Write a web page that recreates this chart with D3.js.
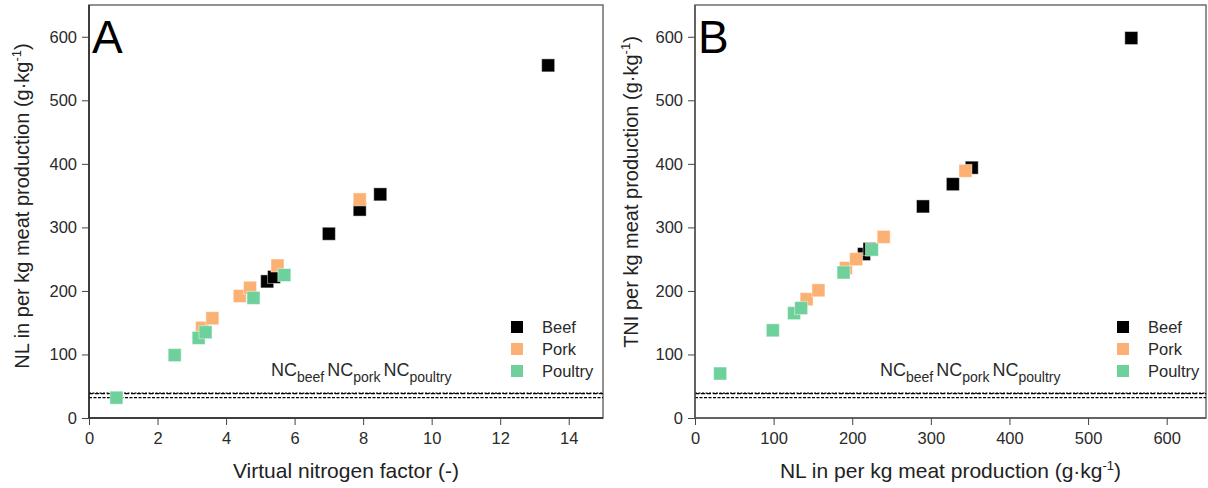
<!DOCTYPE html>
<html>
<head>
<meta charset="utf-8">
<script src="https://cdn.jsdelivr.net/npm/d3@7"></script>
<style>
  body { margin: 0; background: #fff; }
  text { font-family: "Liberation Sans", Arial, sans-serif; }
</style>
</head>
<body>
<div id="chart"></div>
<script>
const width = 1208;
const height = 488;

// series: names and colours
const groups = ['Beef', 'Pork', 'Poultry'];
const colors = {Beef: '#000000', Pork: '#FBB173', Poultry: '#6ED19C'};

// panel A: virtual nitrogen factor vs NL
const beefVNF = [5.2, 5.4, 7.0, 7.9, 8.5, 13.4];
const beefNL = [215, 222, 290, 328, 352, 555];
const porkVNF = [3.3, 3.6, 4.4, 4.7, 5.5, 7.9];
const porkNL = [142, 157, 192, 205, 240, 344];
const poultryVNF = [0.8, 2.5, 3.2, 3.4, 4.8, 5.7];
const poultryNL = [32, 99, 126, 135, 189, 225];

// panel B: NL vs TNI
const beefTNI = [258, 266, 333, 368, 394, 598];
const porkTNI = [187, 201, 236, 250, 285, 389];
const poultryTNI = [70, 138, 165, 173, 229, 265];

// NC reference lines
const ncNames = ['beef', 'pork', 'poultry'];
const ncValues = [39.2, 38.4, 32];
const ncDash = ['2,1.5', '4,2', '3,1.5'];

const xTicksA = [0, 2, 4, 6, 8, 10, 12, 14];
const xTicksB = [0, 100, 200, 300, 400, 500, 600];
const yTicks = [0, 100, 200, 300, 400, 500, 600];

const svg = d3.select('#chart')
  .append('svg')
  .attr('width', width)
  .attr('height', height);

function panel(opts) {
  const x = d3.scaleLinear().domain(opts.xDomain).range([opts.left, opts.right]);
  const y = d3.scaleLinear().domain([0, 650]).range([418, 5]);
  const g = svg.append('g');

  // frame
  g.append('rect')
    .attr('x', opts.left).attr('y', 5)
    .attr('width', opts.right - opts.left).attr('height', 413)
    .attr('fill', 'none').attr('stroke', '#6e6e6e').attr('stroke-width', 1.5);

  // NC lines
  ncValues.forEach(function(v, i) {
    g.append('line')
      .attr('x1', x.range()[0]).attr('x2', x.range()[1])
      .attr('y1', y(v)).attr('y2', y(v))
      .attr('stroke', '#000').attr('stroke-width', 1.2)
      .attr('stroke-dasharray', ncDash[i]);
  });

  const xAxis = g.append('g')
    .attr('transform', 'translate(0,418)')
    .call(d3.axisBottom(x).tickValues(opts.xTicks).tickSize(7).tickPadding(7));
  const yAxis = g.append('g')
    .attr('transform', 'translate(' + opts.left + ',0)')
    .call(d3.axisLeft(y).tickValues(yTicks).tickSize(7).tickPadding(5));
  [xAxis, yAxis].forEach(function(a) {
    a.select('.domain').attr('stroke', opts.axisColor).attr('stroke-width', 1.5);
    a.selectAll('.tick line').attr('stroke', '#444').attr('stroke-width', 1);
    a.selectAll('.tick text').attr('fill', '#2a2a2a')
      .style('font-family', '"Liberation Sans", Arial, sans-serif')
      .style('font-size', '16.5px');
  });
  // keep the domain flat (no outer ticks)
  xAxis.select('.domain').attr('d', 'M' + opts.left + ',0H' + opts.right);
  yAxis.select('.domain').attr('d', 'M0,418V5');

  // points
  opts.series.forEach(function(s) {
    g.append('g').selectAll('rect')
      .data(s.xs.map(function(v, i) { return {x: v, y: s.ys[i]}; }))
      .enter().append('rect')
      .attr('x', function(d) { return x(d.x) - 6.5; })
      .attr('y', function(d) { return y(d.y) - 6.5; })
      .attr('width', 13).attr('height', 13)
      .attr('fill', colors[s.name])
      .attr('stroke', 'rgba(255,255,255,0.45)').attr('stroke-width', 1);
  });

  // panel letter
  g.append('text')
    .attr('x', opts.left + 3).attr('y', 53)
    .style('font-size', '46px').attr('fill', '#000')
    .text(opts.letter);

  // legend
  const lg = g.append('g');
  groups.forEach(function(name, i) {
    lg.append('rect')
      .attr('x', opts.legendX).attr('y', 321 + i * 22)
      .attr('width', 12).attr('height', 12)
      .attr('fill', colors[name]);
    lg.append('text')
      .attr('x', opts.legendX + 31).attr('y', 333 + i * 22)
      .style('font-size', '16.5px').attr('fill', '#2a2a2a')
      .text(name);
  });

  // NC labels
  const nc = g.append('text')
    .attr('x', opts.ncX).attr('y', 376)
    .attr('fill', '#2a2a2a').style('font-size', '18px');
  ncNames.forEach(function(n, i) {
    nc.append('tspan').attr('dx', i === 0 ? 0 : 3).attr('dy', i === 0 ? 0 : -6).text('NC');
    nc.append('tspan').attr('dy', 6).style('font-size', '14px').text(n);
  });

  // axis titles
  const xt = g.append('text')
    .attr('x', (opts.left + opts.right) / 2).attr('y', 478)
    .attr('text-anchor', 'middle')
    .style('font-size', '21px').attr('fill', '#222');
  opts.xTitle(xt);
  const yt = g.append('text')
    .attr('transform', 'translate(' + opts.yTitleX + ',' + opts.yTitleY + ') rotate(-90)')
    .attr('text-anchor', 'middle')
    .style('font-size', '20px').attr('fill', '#222');
  opts.yTitle(yt);
}

function unitTitle(prefix) {
  return function(t) {
    t.append('tspan').text(prefix + ' (g\u00b7kg');
    t.append('tspan').attr('dy', -8).style('font-size', '13px').text('-1');
    t.append('tspan').attr('dy', 8).text(')');
  };
}

panel({
  letter: 'A',
  left: 89, right: 603,
  xDomain: [0, 15], xTicks: xTicksA,
  axisColor: '#222',
  series: [
    {name: 'Beef', xs: beefVNF, ys: beefNL},
    {name: 'Pork', xs: porkVNF, ys: porkNL},
    {name: 'Poultry', xs: poultryVNF, ys: poultryNL}
  ],
  legendX: 511, ncX: 271,
  xTitle: function(t) { t.text('Virtual nitrogen factor (-)'); },
  yTitle: unitTitle('NL in per kg meat production'),
  yTitleX: 29, yTitleY: 206
});

panel({
  letter: 'B',
  left: 695, right: 1206,
  xDomain: [0, 650], xTicks: xTicksB,
  axisColor: '#555',
  series: [
    {name: 'Beef', xs: beefNL, ys: beefTNI},
    {name: 'Pork', xs: porkNL, ys: porkTNI},
    {name: 'Poultry', xs: poultryNL, ys: poultryTNI}
  ],
  legendX: 1117, ncX: 880,
  xTitle: unitTitle('NL in per kg meat production'),
  yTitle: unitTitle('TNI per kg meat production'),
  yTitleX: 638, yTitleY: 192
});
</script>
</body>
</html>
